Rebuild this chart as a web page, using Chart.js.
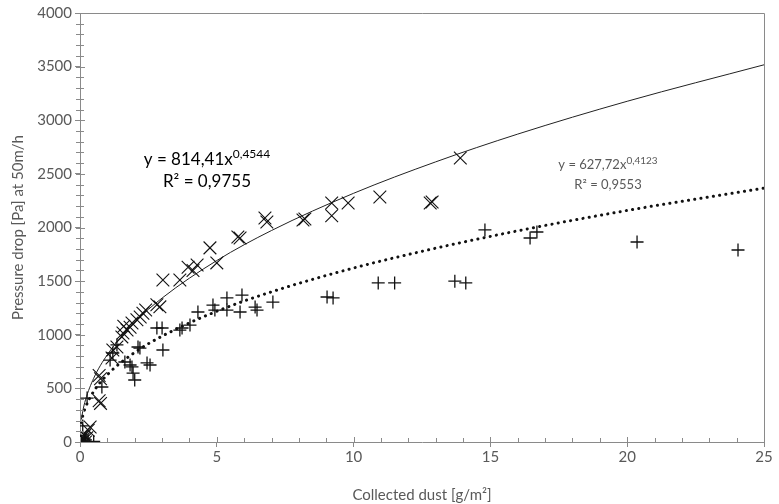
<!DOCTYPE html>
<html>
<head>
<meta charset="utf-8">
<script src="https://cdn.jsdelivr.net/npm/chart.js@4.4.1/dist/chart.umd.min.js"></script>
<style>
html,body{margin:0;padding:0;background:#fff;}
#wrap{width:779px;height:504px;}
</style>
</head>
<body>
<div id="wrap"><canvas id="c" width="779" height="504"></canvas></div>
<script>
// Series 1 (X markers)
const s1X = [0,0.03,0.06,0.1,0.13,0.17,0.2,0.25,0.3,0.37,0.7,0.75,0.7,0.75,1.17,1.2,1.35,1.53,1.57,1.6,1.72,1.83,1.9,2.08,2.2,2.3,2.4,2.81,2.92,3.03,3.65,3.95,4.13,4.28,4.75,5.0,5.77,5.85,6.76,6.83,8.15,8.22,9.2,9.2,9.8,10.96,12.8,12.87,13.9];
const s1Y = [0,20,50,10,30,60,0,40,110,140,620,590,385,360,783,858,886,980,1016,1080,1045,1070,1110,1140,1165,1200,1230,1280,1260,1510,1510,1630,1600,1650,1810,1670,1911,1902,2089,2051,2070,2080,2228,2110,2228,2284,2228,2238,2648];
// Series 2 (+ markers)
const s2X = [0,0.05,0.1,0.15,0.2,0.3,0.5,0.26,0.8,1.1,1.2,1.35,1.64,1.83,1.9,1.94,2.0,2.12,2.19,2.45,2.56,2.81,3.0,3.03,3.65,3.73,4.02,4.31,4.86,4.93,5.37,5.37,5.85,5.92,6.4,6.47,7.05,9.03,9.25,10.9,11.5,13.7,14.1,14.8,16.45,16.7,20.36,24.05];
const s2Y = [0,10,150,30,20,0,5,410,513,764,830,905,746,718,700,643,578,886,876,737,718,1063,1063,858,1044,1063,1090,1212,1277,1230,1343,1230,1212,1370,1258,1230,1305,1352,1343,1483,1483,1500,1483,1977,1902,1958,1865,1790];
// Trendlines
const trendX = [0.05,0.1,0.2,0.5,1,2,3,5,7,10,13,16,20,25];
const trend1Y = [209,286,392,594,814,1116,1342,1692,1972,2319,2612,2871,3177,3517];
const trend2Y = [183,243,323,472,628,835,987,1219,1400,1622,1807,1969,2159,2367];
// Axis
const xTicks = [0,5,10,15,20,25];
const yTicks = [0,500,1000,1500,2000,2500,3000,3500,4000];
const eq1 = ["y = 814,41x","0,4544","R² = 0,9755"];
const eq2 = ["y = 627,72x","0,4123","R² = 0,9553"];

const pts = (xs, ys) => xs.map((x,i)=>({x:x,y:ys[i]}));
const FONT = "Lato, 'Open Sans', sans-serif";
const GRAY = '#595959';
const AXIS = '#8a8a8a';

const deco = {
  id:'deco',
  afterDraw(chart){
    const ctx = chart.ctx, a = chart.chartArea;
    const xs = chart.scales.x, ys = chart.scales.y;
    ctx.save();
    ctx.strokeStyle = AXIS; ctx.lineWidth = 1;
    ctx.beginPath();
    ctx.moveTo(a.left, a.top+0.5); ctx.lineTo(a.right+0.5, a.top+0.5); ctx.lineTo(a.right+0.5, a.bottom);
    ctx.stroke();
    ctx.beginPath();
    for(let v=0; v<=25; v++){
      const px = Math.round(xs.getPixelForValue(v))+0.5;
      const up = (v%5===0)?5:4;
      ctx.moveTo(px, a.bottom-up); ctx.lineTo(px, a.bottom);
    }
    for(let v=0; v<=4000; v+=100){
      const py = Math.round(ys.getPixelForValue(v))+0.5;
      const r = (v%500===0)?5:4;
      ctx.moveTo(a.left-4, py); ctx.lineTo(a.left+r, py);
    }
    ctx.stroke();
    function eq(e, cx, y1, y2, size, supSize, color){
      ctx.fillStyle = color;
      ctx.textBaseline = 'middle';
      ctx.font = size+'px '+FONT;
      const w1 = ctx.measureText(e[0]).width;
      ctx.font = supSize+'px '+FONT;
      const w2 = ctx.measureText(e[1]).width;
      const left = cx - (w1+w2)/2;
      ctx.textAlign='left';
      ctx.font = size+'px '+FONT;
      ctx.fillText(e[0], left, y1);
      ctx.font = supSize+'px '+FONT;
      ctx.fillText(e[1], left+w1, y1-size*0.36);
      ctx.font = size+'px '+FONT;
      ctx.textAlign='center';
      ctx.fillText(e[2], cx, y2);
    }
    eq(eq1, 207, 160, 182, 17, 12, '#000');
    eq(eq2, 608, 165, 185, 13, 10, GRAY);
    ctx.restore();
  }
};

new Chart(document.getElementById('c'), {
  type:'scatter',
  data:{
    datasets:[
      {data:pts(s1X,s1Y), pointStyle:'crossRot', pointRadius:9, pointHoverRadius:9, borderColor:'#111', backgroundColor:'#111', borderWidth:1.1},
      {data:pts(s2X,s2Y), pointStyle:'cross', pointRadius:6.5, pointHoverRadius:6.5, borderColor:'#111', backgroundColor:'#111', borderWidth:1.3},
      {type:'line', data:pts(trendX,trend1Y), showLine:true, pointRadius:0, borderColor:'#222', borderWidth:1, cubicInterpolationMode:'monotone', fill:false},
      {type:'line', data:pts(trendX,trend2Y), showLine:true, pointRadius:0, borderColor:'#111', borderWidth:3, borderDash:[0.1,6.2], borderCapStyle:'round', cubicInterpolationMode:'monotone', fill:false}
    ]
  },
  options:{
    responsive:false, animation:false,
    layout:{padding:{top:13,right:15,left:9,bottom:0}},
    plugins:{legend:{display:false}, tooltip:{enabled:false}},
    scales:{
      x:{type:'linear', min:0, max:25,
        afterBuildTicks(s){ s.ticks = xTicks.map(v=>({value:v})); },
        afterFit(s){ s.height = 62; },
        grid:{display:true, drawOnChartArea:false, drawTicks:true, tickLength:5, color:AXIS},
        border:{display:true, color:AXIS, width:1},
        ticks:{color:GRAY, font:{family:FONT, size:15}, padding:1, maxRotation:0, callback:v=>String(v)},
        title:{display:true, text:'Collected dust [g/m²]', color:GRAY, font:{family:FONT, size:15}, padding:{top:8,bottom:0}}
      },
      y:{type:'linear', min:0, max:4000,
        afterBuildTicks(s){ s.ticks = yTicks.map(v=>({value:v})); },
        afterFit(s){ s.width = 71; },
        grid:{display:true, drawOnChartArea:false, drawTicks:true, tickLength:5, color:AXIS},
        border:{display:true, color:AXIS, width:1},
        ticks:{color:GRAY, font:{family:FONT, size:15}, padding:3, callback:v=>String(v)},
        title:{display:true, text:'Pressure drop [Pa] at 50m/h', color:GRAY, font:{family:FONT, size:15}, padding:{top:0,bottom:6}}
      }
    }
  },
  plugins:[deco]
});
</script>
</body>
</html>
